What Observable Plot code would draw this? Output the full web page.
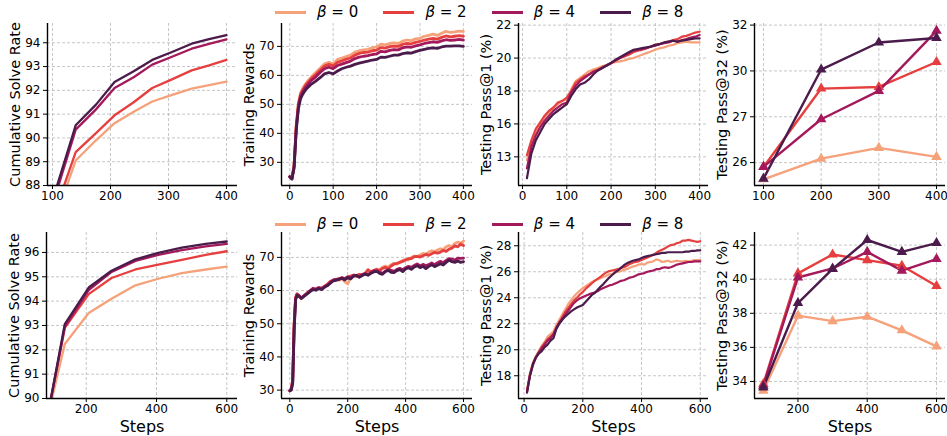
<!DOCTYPE html>
<html><head><meta charset="utf-8">
<script src="https://cdn.jsdelivr.net/npm/d3@7"></script>
<script src="https://cdn.jsdelivr.net/npm/@observablehq/plot@0.6"></script>
<style>
body{margin:0;background:#fff;}
#root{position:relative;width:947px;height:436px;overflow:hidden;font-family:"DejaVu Sans",sans-serif;background:#fff;}
.lg-line{position:absolute;height:3px;width:31px;}
.lg-text{position:absolute;font-size:15px;line-height:18px;white-space:nowrap;color:#000;}
</style></head>
<body><div id="root"></div>
<script>
// ---------- data ----------
const betas = [0, 2, 4, 8];
const betaNames = ["0", "2", "4", "8"];

// Row 1 (400 steps)
const solveStepsA = [70, 140, 175, 207, 240, 272, 305, 340, 370, 400];
const solveA = [
  [84.2, 89.05, 89.9, 90.62, 91.1, 91.53, 91.8, 92.07, 92.22, 92.37],
  [84.5, 89.4, 90.2, 90.95, 91.5, 92.1, 92.45, 92.84, 93.05, 93.28],
  [84.8, 90.35, 91.2, 92.1, 92.55, 93.08, 93.4, 93.75, 93.95, 94.14],
  [85.0, 90.53, 91.4, 92.35, 92.8, 93.28, 93.6, 93.96, 94.15, 94.32]
];
const rewardStepsA = [0, 5, 10, 15, 20, 25, 30, 35, 40].concat(d3.range(50, 401, 10));
const rewardA = [
  [25,24.5,29,43,50.5,54,55.5,56.8,57.8, 59.5,61,62.5,64,64.5,64,65.5,66,66.5,67, 68,68.5,68.8,69,69.5,69.8,70.8,70.5,71,71.2, 71,71.8,72.2,72,72.6,72.8,73.5,73.8,74.2,73.8, 74.5,75.2,74.8,75,75.3,75.2],
  [25,24.5,29,42.5,50,53.5,55,56.3,57.2, 59,60.3,61.8,63.2,63.8,63.3,64.5,65,65.6,66, 67,67.6,67.9,68,68.5,68.7,69.6,69.4,69.9,70.1, 70,70.7,71,70.9,71.4,71.7,72.2,72.5,72.8,72.5, 73.1,73.6,73.3,73.5,73.7,73.5],
  [25,24.3,28.5,42,49.5,52.8,54.3,55.6,56.6, 58.3,59.5,61,62.3,62.8,62.3,63.4,63.9,64.4,64.9, 65.8,66.3,66.6,66.8,67.2,67.4,68.3,68.1,68.6,68.9, 68.8,69.5,69.8,69.7,70.2,70.5,71,71.3,71.6,71.4, 71.9,72.3,72.1,72.2,72.4,72.2],
  [25,24.2,28,41,48.5,52,53.5,54.7,55.6, 57,58,59.2,60.5,61,60.5,61.5,62.3,62.8,63.2, 63.8,64.2,64.6,64.9,65.3,65.5,66.3,66.2,66.6,67, 67,67.5,67.8,67.7,68.2,68.6,69,69.3,69.5,69.3, 69.8,70.1,70.1,70.2,70.2,70]
];
const pass1StepsA = d3.range(10, 401, 10);
const pass1A = [
  [13.8,14.9,15.5,16.0,16.4,16.7,17.0,17.2,17.4,17.5, 18.1,18.6,18.8,19.0,19.2,19.3,19.4,19.5,19.6,19.7, 19.75,19.8,19.85,19.95,20.0,20.1,20.2,20.3,20.4,20.5, 20.6,20.65,20.75,20.8,20.9,20.95,21.0,20.95,20.95,20.95],
  [14.1,15.0,15.7,16.1,16.5,16.8,17.0,17.3,17.4,17.6, 18.0,18.5,18.7,18.9,19.0,19.2,19.3,19.45,19.55,19.7, 19.85,20.0,20.1,20.2,20.35,20.45,20.5,20.6,20.7,20.8, 20.85,20.95,21.0,21.1,21.15,21.3,21.35,21.45,21.55,21.6],
  [13.3,14.6,15.3,15.8,16.2,16.5,16.8,17.0,17.2,17.3, 17.9,18.3,18.6,18.8,19.0,19.15,19.25,19.4,19.55,19.7, 19.85,20.0,20.15,20.3,20.45,20.5,20.55,20.6,20.7,20.75, 20.85,20.9,20.95,21.05,21.0,21.1,21.15,21.25,21.3,21.4],
  [12.7,14.2,15.0,15.5,16.0,16.3,16.6,16.8,17.0,17.2, 17.7,18.1,18.4,18.5,18.7,19.0,19.25,19.4,19.55,19.7, 19.9,20.05,20.2,20.35,20.5,20.55,20.6,20.65,20.7,20.8, 20.85,20.95,21.0,21.05,21.0,21.05,21.1,21.15,21.2,21.2]
];
const pass1TicksA = [14, 16, 18, 20, 22];
const pass1TickLabelsA = ["13", "16", "18", "20", "22"];
const pass32StepsA = [100, 200, 300, 400];
const pass32A = [
  [25.27, 26.17, 26.64, 26.25],
  [25.81, 29.23, 29.30, 30.39],
  [25.81, 27.89, 29.13, 31.75],
  [25.3, 30.06, 31.24, 31.44]
];
const pass32TicksA = [26, 28, 30, 32];
const pass32TickLabelsA = ["26", "27", "30", "32"];

// Row 2 (600 steps)
const solveStepsB = [70, 139, 207, 272, 340, 405, 472, 540, 600];
const solveB = [
  [88.0, 92.24, 93.51, 94.1, 94.65, 94.92, 95.15, 95.3, 95.42],
  [87.8, 92.9, 94.29, 94.95, 95.3, 95.5, 95.7, 95.9, 96.05],
  [87.8, 92.95, 94.45, 95.2, 95.65, 95.9, 96.1, 96.25, 96.35],
  [87.7, 93.06, 94.56, 95.25, 95.72, 95.98, 96.2, 96.35, 96.45]
];
const rewardStepsB = [0, 5, 10, 15, 20, 25, 30].concat(d3.range(40, 601, 10));
const rewardB = [
  [29.8,30.5,33,50,58,59,58.7, 57.6,58.6,59.2,59.8,60.5,60.3,60.9,60.6,61.1,61.8, 62.6,63,63.3,63.1,63.6,62.6,62,64,64.5,64.2, 64.7,64.4,65,65.8,65.2,66,66.5,66.2,67,67.4, 67.1,67.8,68.2,68,68.6,69.1,69.4,69.2,70,70.4, 70.2,70.7,71.2,71,71.6,72,71.8,72.2,72.6,72.4, 73.2,73.6,73.2,74.2,74.6,74.3,74.9],
  [29.8,30.5,33,50,58,59,58.6, 57.7,58.5,59.3,59.9,60.4,60.5,60.7,60.8,61.3,61.9, 62.8,63.1,63.4,63.6,63.8,63.5,63.9,64.4,64.7,64.5, 64.9,64.6,65.2,66.3,65.6,66.1,66.3,66,66.7,67, 66.6,67.4,68,68.2,68.5,68.8,69.2,69.6,69.6,70.2, 70.3,70.1,70.5,70.9,70.6,71.1,71.5,71.3,71.6,72.1, 71.8,72.5,72.8,73.5,73.2,74,73.6],
  [29.8,30.2,32.5,49,57.5,58.8,58.6, 57.8,58.5,59.1,60,60.7,60.4,60.9,60.6,61.2,61.6, 62.4,63.2,63.4,63.3,63.9,63.6,64.2,63.8,64.6,64.4, 64.2,64.9,65.1,64.8,65.4,65.9,66,65.6,65.2,65.9, 66.3,66.1,65.8,66.4,66.7,66.3,66.9,67.3,67,67.6, 68,67.4,67.9,67.5,67.8,68.3,67.8,68.4,68.8,68.4, 69.1,69.6,69.5,69.2,69.8,69.7,69.8],
  [29.8,30,32,48,57.2,58.5,58.4, 57.6,58.3,59,59.7,60.3,60.1,60.6,60.3,61,61.5, 62.2,62.9,63.1,63.5,63.7,63.2,63.9,63.5,64.3,64.6, 64,64.5,65,64.6,65.2,65.6,65.8,65.2,64.9,65.7, 66.1,65.5,65.4,66,66.3,65.7,66.5,66.9,66.4,67.1, 67.5,66.9,67.3,66.6,67.3,67.8,67.2,67.6,68.1,67.7, 68.5,69.2,68.7,68.5,68.9,68.5,68.7]
];
const pass1StepsB = d3.range(10, 601, 10);
const pass1B = [
  [16.9,18.2,19.0,19.5,19.9,20.3,20.6,21.0,21.2,21.4, 21.9,22.3,22.7,23.1,23.5,23.8,24.1,24.35,24.55,24.75, 24.9,25.05,25.2,25.3,25.4,25.5,25.6,25.7,25.8,25.85, 25.95,26.0,26.05,26.15,26.2,26.3,26.4,26.45,26.55,26.6, 26.55,26.7,26.75,26.8,26.95,26.9,26.75,26.8,26.85,26.75, 26.8,26.85,26.8,26.8,26.85,26.8,26.85,26.9,26.9,26.9],
  [16.8,18.1,18.9,19.4,19.8,20.2,20.5,20.8,21.0,21.2, 21.7,22.1,22.5,22.9,23.2,23.5,23.8,24.0,24.25,24.45, 24.7,24.9,25.1,25.3,25.45,25.6,25.8,25.95,26.05,26.1, 26.15,26.2,26.3,26.35,26.45,26.6,26.7,26.75,26.8,26.9, 27.0,27.1,27.2,27.3,27.45,27.6,27.7,27.8,27.95,28.05, 28.1,28.2,28.25,28.4,28.4,28.45,28.4,28.35,28.3,28.35],
  [16.8,18.0,18.8,19.4,19.8,20.1,20.4,20.7,20.9,21.2, 21.7,22.1,22.4,22.7,23.0,23.3,23.6,23.8,23.95,24.05, 24.15,24.25,24.35,24.4,24.5,24.65,24.75,24.85,24.95,25.0, 25.1,25.2,25.3,25.35,25.45,25.55,25.6,25.7,25.8,25.85, 25.9,26.0,26.05,26.1,26.2,26.2,26.3,26.35,26.3,26.35, 26.45,26.55,26.6,26.65,26.7,26.75,26.75,26.8,26.8,26.8],
  [16.7,18.0,18.9,19.4,19.7,19.9,20.2,20.4,20.7,20.9, 21.6,22.0,22.3,22.55,22.75,22.95,23.1,23.25,23.35,23.45, 23.7,23.95,24.2,24.35,24.6,24.85,25.05,25.3,25.55,25.75, 25.95,26.1,26.3,26.5,26.65,26.75,26.85,26.9,26.95,27.05, 27.15,27.2,27.25,27.3,27.35,27.4,27.45,27.45,27.5,27.5, 27.5,27.5,27.5,27.5,27.55,27.55,27.6,27.6,27.65,27.65]
];
const pass32StepsB = [100, 200, 300, 400, 500, 600];
const pass32B = [
  [33.46, 37.86, 37.54, 37.8, 37.0, 36.06],
  [33.85, 40.34, 41.45, 41.12, 40.79, 39.6],
  [33.75, 40.1, 40.63, 41.6, 40.5, 41.18],
  [33.65, 38.6, 40.6, 42.3, 41.6, 42.12]
];

// ---------- drawing ----------
const colors = ["#f5a17a", "#e5403f", "#a3195b", "#4b1c4b"];
const root = document.getElementById("root");

function panel(o) {
  const [L, T, R, B] = o.frame;
  const mL = 50, mR = 6, mT = 6, mB = o.xlabel ? 40 : 24;
  const rows = [];
  o.series.forEach((vals, k) => vals.forEach((v, i) => rows.push({x: o.steps[i], y: v, b: betas[k]})));
  const yLab = new Map(o.yTicks.map((t, i) => [t, o.yTickLabels ? o.yTickLabels[i] : String(t)]));
  const grid = {stroke: "#b8b8b8", strokeOpacity: 1, strokeDasharray: "3,2", strokeWidth: 0.8};
  const marks = [
    Plot.gridX(o.xTicks, grid),
    Plot.gridY(o.yTicks, grid),
    Plot.line(rows, {x: "x", y: "y", z: "b", stroke: "b", strokeWidth: o.sw, clip: true, strokeLinejoin: "round"})
  ];
  if (o.markers) marks.push(Plot.dot(rows, {x: "x", y: "y", fill: "b", symbol: "triangle", r: 3.9}));
  marks.push(
    Plot.ruleX([o.xDomain[0]], {stroke: "#000", strokeWidth: 1.4}),
    Plot.ruleY([o.yDomain[0]], {stroke: "#000", strokeWidth: 1.4}),
    Plot.axisX({ticks: o.xTicks, tickSize: 4, tickPadding: 2, fontSize: 12, label: null}),
    Plot.axisY({ticks: o.yTicks, tickFormat: d => yLab.get(d), tickSize: 4, tickPadding: 3, fontSize: 12, label: null}),
    Plot.text([o.ylabel], {text: d => d, frameAnchor: "left", rotate: -90, dx: -32, fontSize: 14.5, lineAnchor: "middle", textAnchor: "middle"})
  );
  if (o.xlabel) marks.push(Plot.text([o.xlabel], {text: d => d, frameAnchor: "bottom", dy: 28, fontSize: 16, lineAnchor: "middle"}));
  const svg = Plot.plot({
    width: (R - L) + mL + mR, height: (B - T) + mT + mB,
    marginLeft: mL, marginRight: mR, marginTop: mT, marginBottom: mB,
    x: {domain: o.xDomain}, y: {domain: o.yDomain},
    color: {type: "ordinal", domain: betas, range: colors},
    style: {background: "transparent", fontFamily: "DejaVu Sans", fontSize: "12px", color: "#000", overflow: "visible"},
    marks
  });
  svg.style.position = "absolute";
  svg.style.left = (L - mL) + "px";
  svg.style.top = (T - mT) + "px";
  svg.style.maxWidth = "none";
  root.append(svg);
}

function legend(cy) {
  betas.forEach((b, i) => {
    const x0 = 275 + i * 108.4;
    const ln = document.createElement("div");
    ln.className = "lg-line";
    ln.style.left = x0 + "px"; ln.style.top = (cy - 1.5) + "px"; ln.style.background = colors[i];
    root.append(ln);
    const tx = document.createElement("div");
    tx.className = "lg-text";
    tx.style.left = (x0 + 42) + "px"; tx.style.top = (cy - 9) + "px";
    tx.innerHTML = "<i>β</i> = " + betaNames[i];
    root.append(tx);
  });
}

// Row 1
panel({frame: [47, 23, 237, 185], xDomain: [91.4, 419], yDomain: [88, 94.81], xTicks: [100, 200, 300, 400], yTicks: [88, 89, 90, 91, 92, 93, 94],
  steps: solveStepsA, series: solveA, sw: 2.3, ylabel: "Cumulative Solve Rate"});
panel({frame: [281, 23, 472, 185], xDomain: [-19, 421], yDomain: [22, 77.9], xTicks: [0, 100, 200, 300, 400], yTicks: [30, 40, 50, 60, 70],
  steps: rewardStepsA, series: rewardA, sw: 2.8, ylabel: "Training Rewards"});
panel({frame: [518, 23, 708, 185], xDomain: [-9, 420], yDomain: [12.26, 22.1], xTicks: [0, 100, 200, 300, 400], yTicks: pass1TicksA, yTickLabels: pass1TickLabelsA,
  steps: pass1StepsA, series: pass1A, sw: 2.2, ylabel: "Testing Pass@1 (%)"});
panel({frame: [754, 23, 945, 185], xDomain: [84.4, 415.6], yDomain: [25.0, 32.07], xTicks: [100, 200, 300, 400], yTicks: pass32TicksA, yTickLabels: pass32TickLabelsA,
  steps: pass32StepsA, series: pass32A, sw: 2.4, markers: true, ylabel: "Testing Pass@32 (%)"});
// Row 2
panel({frame: [46, 232, 237, 398], xDomain: [86.9, 630.5], yDomain: [90, 96.82], xTicks: [200, 400, 600], yTicks: [90, 91, 92, 93, 94, 95, 96],
  steps: solveStepsB, series: solveB, sw: 2.3, ylabel: "Cumulative Solve Rate", xlabel: "Steps"});
panel({frame: [281, 232, 472, 398], xDomain: [-28.7, 631], yDomain: [27.47, 77.5], xTicks: [0, 200, 400, 600], yTicks: [30, 40, 50, 60, 70],
  steps: rewardStepsB, series: rewardB, sw: 2.8, ylabel: "Training Rewards", xlabel: "Steps"});
panel({frame: [518, 232, 708, 398], xDomain: [-19, 628], yDomain: [16.25, 29.02], xTicks: [0, 200, 400, 600], yTicks: [18, 20, 22, 24, 26, 28],
  steps: pass1StepsB, series: pass1B, sw: 2.2, ylabel: "Testing Pass@1 (%)", xlabel: "Steps"});
panel({frame: [754, 232, 945, 398], xDomain: [74.5, 626], yDomain: [33.0, 42.74], xTicks: [200, 400, 600], yTicks: [34, 36, 38, 40, 42],
  steps: pass32StepsB, series: pass32B, sw: 2.4, markers: true, ylabel: "Testing Pass@32 (%)", xlabel: "Steps"});

legend(12);
legend(224);
</script>
</body></html>
